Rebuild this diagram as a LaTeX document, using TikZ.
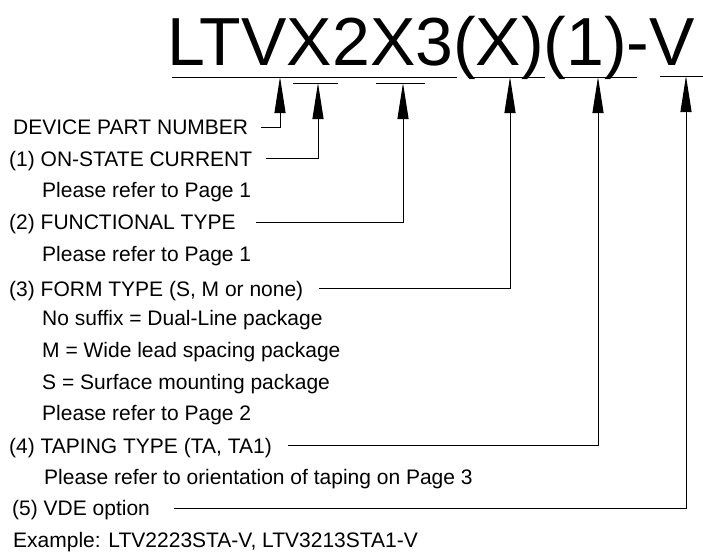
\documentclass[tikz,border=0pt]{standalone}
\usepackage{fontspec}
\setmainfont{Liberation Sans}
\usetikzlibrary{arrows.meta}
\usetikzlibrary{positioning}

\begin{document}
\begin{tikzpicture}[x=1pt, y=-1pt,
    lbl/.style={anchor=west, inner sep=0pt, text height=15pt, text depth=0pt, font=\fontsize{21}{21}\selectfont},
    arr/.style={-{Triangle[length=36pt, width=11pt]}, line width=1pt},
    uline/.style={line width=1pt}]
            \useasboundingbox (0,0) rectangle (703,551);
            % Part number and its underlines
            \node[anchor=base west, inner sep=0pt, font=\fontsize{68}{68}\selectfont] (title) at (167,65) {LTVX2X3(X)(1)-V};
            \draw[uline] (172,77) -- (457,77);
            \draw[uline] (293,83) -- (338,83);
            \draw[uline] (376,83) -- (425,83);
            \draw[uline] (468,77) -- (545,77);
            \draw[uline] (562,77) -- (637,77);
            \draw[uline] (660,76) -- (703,76);
            
            \coordinate (tipPN) at (280,77);
            \coordinate (tipOn) at (318,83);
            \coordinate (tipFn) at (403,83);
            \coordinate (tipForm) at (510,77);
            \coordinate (tipTape) at (598,77);
            \coordinate (tipVde) at (686,76);
            
            % Legend lines
            \node[lbl] (dpn) at (13,127) {DEVICE PART NUMBER};
            \node[lbl] (cur) at (9,158.7) {(1) ON-STATE CURRENT};
            \node[lbl] (curRef) at (42,190.4) {Please refer to Page 1};
            \node[lbl] (fun) at (9,222.1) {(2) FUNCTIONAL TYPE};
            \node[lbl] (funRef) at (42,253.8) {Please refer to Page 1};
            \node[lbl] (form) at (9,288.5) {(3) FORM TYPE (S, M or none)};
            \node[lbl] (formA) at (42,318.2) {No suffix = Dual-Line package};
            \node[lbl] (formB) at (42,349.9) {M = Wide lead spacing package};
            \node[lbl] (formC) at (42,381.6) {S = Surface mounting package};
            \node[lbl] (formRef) at (42,413.3) {Please refer to Page 2};
            \node[lbl] (tape) at (9,445.5) {(4) TAPING TYPE (TA, TA1)};
            \node[lbl] (tapeRef) at (44,476.7) {Please refer to orientation of taping on Page 3};
            \node[lbl] (vde) at (12,508) {(5) VDE option};
            \node[lbl] (ex) at (13,539.5) {Example: LTV2223STA-V, LTV3213STA1-V};
            
            % Leaders up to the part number
            \draw[arr] ([xshift=13pt]dpn.east) -| (tipPN);
            \draw[arr] ([xshift=14pt]cur.east) -| (tipOn);
            \draw[arr] ([xshift=20pt]fun.east) -| (tipFn);
            \draw[arr] ([xshift=16pt]form.east) -| (tipForm);
            \draw[arr] ([xshift=16pt]tape.east) -| (tipTape);
            \draw[arr] ([xshift=24pt]vde.east) -| (tipVde);
        \end{tikzpicture}
\end{document}
